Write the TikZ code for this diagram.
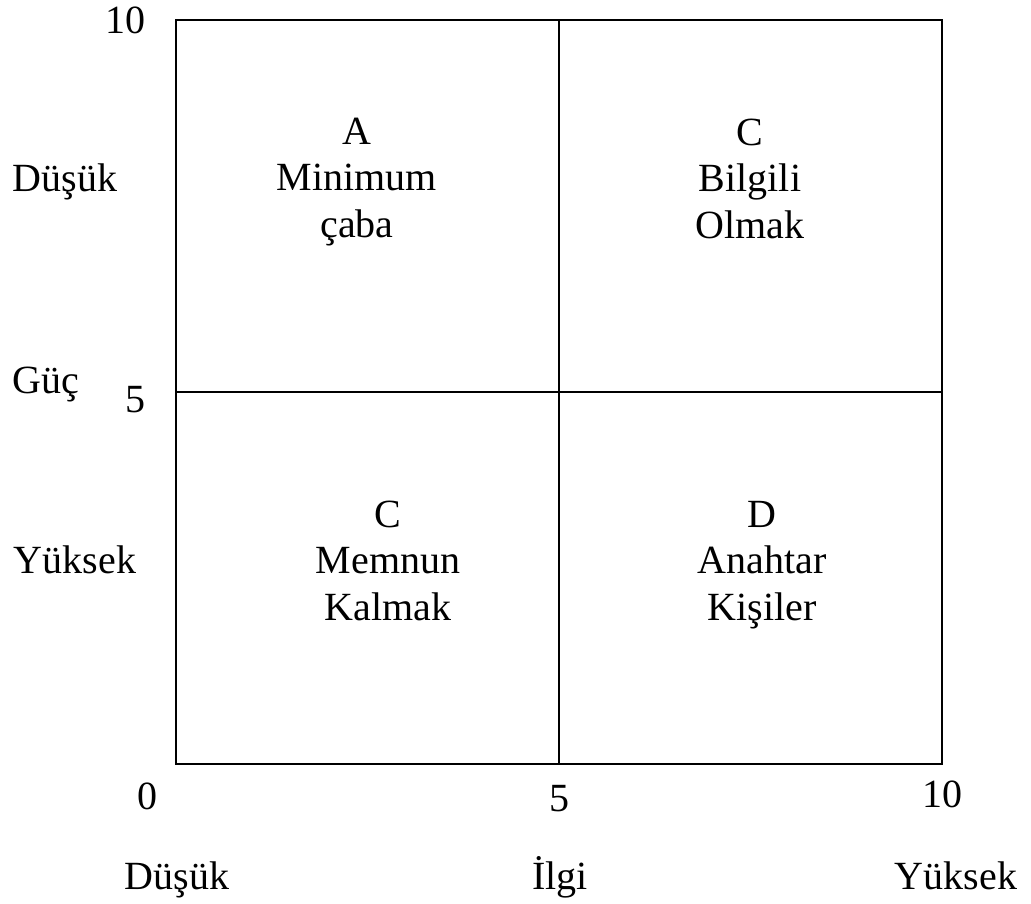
\documentclass[tikz,border=0pt]{standalone}
\usepackage{fontspec}
\setmainfont{Liberation Serif}
\usetikzlibrary{positioning}

\tikzset{
  quad/.style={draw, rectangle, line width=1.6pt, outer sep=0pt,
               minimum width=383pt, minimum height=372pt},
  lbl/.style={inner sep=0pt, anchor=base, font=\fontsize{40}{46.5}\selectfont},
  cell/.style={lbl, align=center}
}

\begin{document}
\begin{tikzpicture}[x=1pt, y=-1pt]
\useasboundingbox (0,0) rectangle (1031,903);

% bolgeler
\node[quad] (q1) at (367.5,206) {};
\node[quad, right=0pt of q1] (q2) {};
\node[quad, below=0pt of q1] (q3) {};
\node[quad, right=0pt of q3] (q4) {};

% bolge yazilari (son satirin tabani)
\node[cell] (a) at (357,237) {A\\Minimum\\çaba};
\node[cell] (c1) at (750,238) {C\\Bilgili\\Olmak};
\node[cell] (c2) at (388,620) {C\\Memnun\\Kalmak};
\node[cell] (d) at (762,620) {D\\Anahtar\\Kişiler};

% guc ekseni
\node[lbl] (y10) at (125,33) {10};
\node[lbl] (gdusuk) at (65,191) {Düşük};
\node[lbl] (guc) at (46,393) {Güç};
\node[lbl] (y5) at (135,412) {5};
\node[lbl] (gyuksek) at (75,573) {Yüksek};

% ilgi ekseni
\node[lbl] (x0) at (147,809) {0};
\node[lbl] (x5) at (559,811) {5};
\node[lbl] (x10) at (942,807) {10};
\node[lbl] (idusuk) at (177,889) {Düşük};
\node[lbl] (ilgi) at (560,889) {İlgi};
\node[lbl] (iyuksek) at (956,889) {Yüksek};
\end{tikzpicture}
\end{document}
